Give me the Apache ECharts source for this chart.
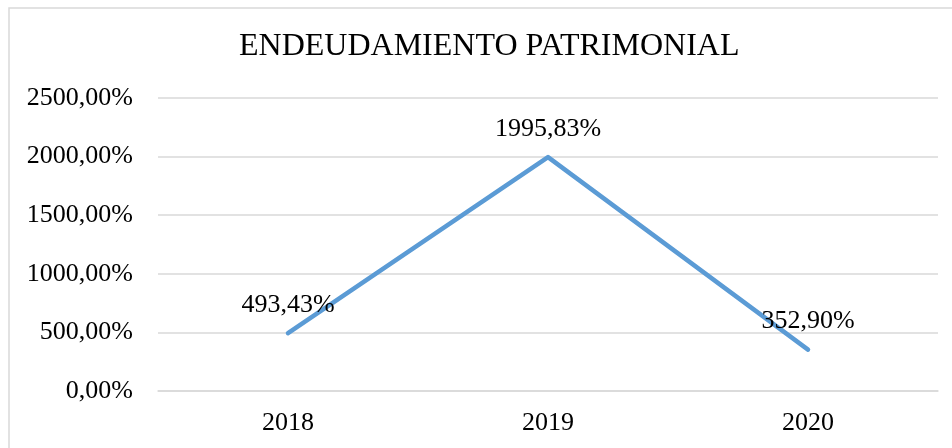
<!DOCTYPE html>
<html>
<head>
<meta charset="utf-8">
<script src="https://cdn.jsdelivr.net/npm/echarts@6/dist/echarts.min.js"></script>
<style>html,body{margin:0;padding:0;background:#fff}#c{width:952px;height:448px}</style>
</head>
<body>
<div id="c"></div>
<script>
var titleText = 'ENDEUDAMIENTO PATRIMONIAL';
var categories = ['2018', '2019', '2020'];
var values = [493.43, 1995.83, 352.90];
var yTicks = [0, 500, 1000, 1500, 2000, 2500];

var FONT = "'Liberation Serif', 'Times New Roman', serif";
function pct(v) { return v.toFixed(2).replace('.', ',') + '%'; }

var chart = echarts.init(document.getElementById('c'), null, {renderer: 'canvas'});
chart.setOption({
  backgroundColor: '#fff',
  animation: false,
  title: {
    text: titleText,
    left: 239,
    top: 31,
    padding: 0,
    textStyle: {fontFamily: FONT, fontSize: 32, fontWeight: 'normal', color: '#000'}
  },
  graphic: [{
    type: 'rect',
    shape: {x: 9, y: 8, width: 980, height: 480},
    style: {fill: 'none', stroke: '#d9d9d9', lineWidth: 1.5},
    silent: true,
    z: -1
  }],
  grid: {left: 158, right: 14, top: 98, bottom: 57},
  xAxis: {
    type: 'category',
    data: categories,
    boundaryGap: true,
    axisLine: {show: true, lineStyle: {color: '#d9d9d9', width: 1.5}},
    axisTick: {show: false},
    axisLabel: {fontFamily: FONT, fontSize: 26, color: '#000', margin: 19}
  },
  yAxis: {
    type: 'value',
    min: yTicks[0],
    max: yTicks[yTicks.length - 1],
    interval: 500,
    axisLine: {show: false},
    axisTick: {show: false},
    splitLine: {lineStyle: {color: '#d9d9d9', width: 1.5}},
    axisLabel: {fontFamily: FONT, fontSize: 26, color: '#000', margin: 25, formatter: function (v) { return pct(v); }}
  },
  series: [{
    type: 'line',
    data: values,
    symbol: 'circle',
    symbolSize: 0,
    showSymbol: true,
    itemStyle: {color: '#5b9bd5'},
    lineStyle: {color: '#5b9bd5', width: 4.5, cap: 'round', join: 'round'},
    label: {
      show: true,
      position: 'top',
      distance: 15,
      fontFamily: FONT,
      fontSize: 26,
      color: '#000',
      formatter: function (p) { return pct(p.value); }
    }
  }]
});
</script>
</body>
</html>
